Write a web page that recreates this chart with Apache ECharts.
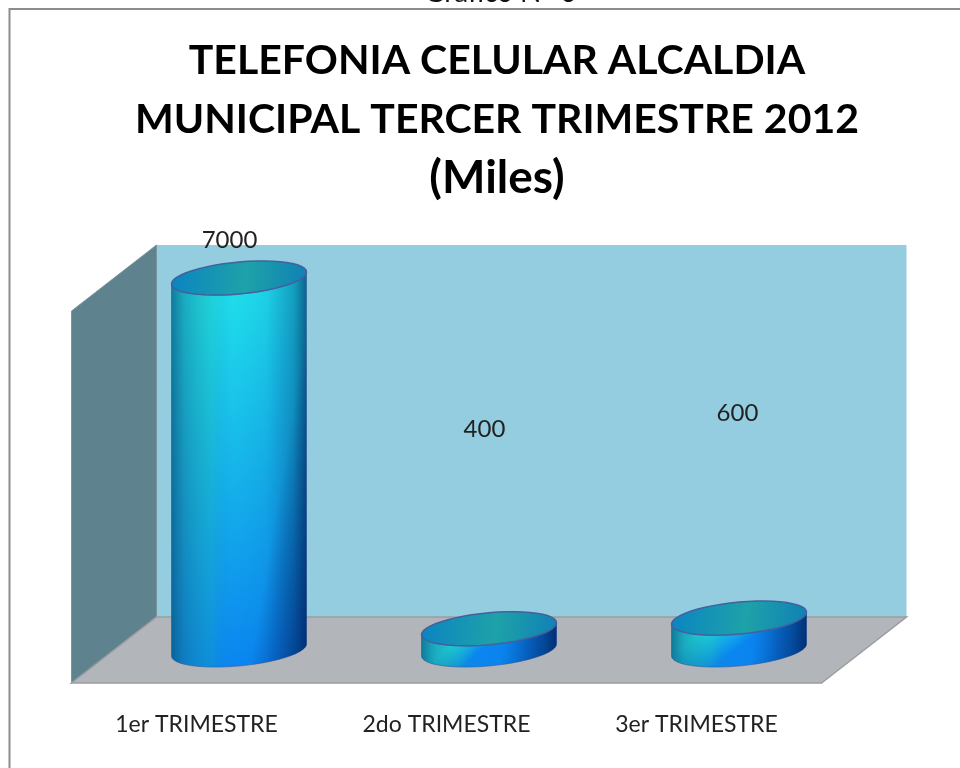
<!DOCTYPE html>
<html>
<head>
<meta charset="utf-8">
<title>Telefonia celular</title>
<script src="https://cdn.jsdelivr.net/npm/echarts@6/dist/echarts.min.js"></script>
<style>
  html, body { margin: 0; padding: 0; background: #fff; }
  #chart { width: 960px; height: 768px; }
</style>
</head>
<body>
<div id="chart"></div>
<script>
const CATEGORIES = ['1er TRIMESTRE', '2do TRIMESTRE', '3er TRIMESTRE'];
const VALUES = [7000, 400, 600];
const VALUE_MAX = 7000;
const TITLE_TEXT = 'TELEFONIA CELULAR ALCALDIA\nMUNICIPAL TERCER TRIMESTRE 2012\n{last|(Miles)}';
const CAPTION_TEXT = 'Gráfico N° 6';

// the value labels sit by hand in the original, far from the bar tops
const LABEL_OFFSETS = [[-9.5, -38], [-4.5, -199], [-1.5, -205]];

const FONT = 'Lato, "Open Sans", sans-serif';
const DEPTH_X = 42.5;
const DEPTH_Y = 33;

const chart = echarts.init(document.getElementById('chart'));

const linear = (x, y, x2, y2, stops, isGlobal) =>
    new echarts.graphic.LinearGradient(x, y, x2, y2, stops, isGlobal);

// sheared ellipse: vertical sides stay tangent at the left and right ends
const ellipsePoint = (cx, cy, a, t) => [
    cx + a * Math.cos(t),
    cy - 6 * Math.cos(t) + 16 * Math.sin(t)
];

const ellipseArc = (cx, cy, a, from, to) => {
    const pts = [];
    for (let i = 0; i <= 48; i++) {
        pts.push(ellipsePoint(cx, cy, a, from + (to - from) * i / 48));
    }
    return pts;
};

const renderWalls = (params) => {
    const g = params.coordSys;
    const fx1 = g.x - DEPTH_X, fx2 = g.x + g.width - DEPTH_X;
    const fy = g.y + g.height + DEPTH_Y;
    const bx1 = g.x + DEPTH_X, bx2 = g.x + g.width + DEPTH_X;
    const by = g.y + g.height - DEPTH_Y;
    const topBack = g.y - DEPTH_Y;
    const topFront = g.y + DEPTH_Y;
    const edge = { stroke: '#9b9da0', lineWidth: 1.5 };
    return {
        type: 'group',
        children: [
            {
                type: 'polygon',
                shape: { points: [[bx1, topBack], [bx2, topBack], [bx2, by], [bx1, by]] },
                style: { fill: '#93cddf' }
            },
            {
                type: 'polygon',
                shape: { points: [[fx1, topFront], [bx1, topBack], [bx1, by], [fx1, fy]] },
                style: { fill: '#5f828f', stroke: '#7d949d', lineWidth: 1 }
            },
            {
                type: 'polygon',
                shape: { points: [[bx1, by], [bx2, by], [fx2, fy], [fx1, fy]] },
                style: { fill: '#b2b5ba', ...edge }
            }
        ]
    };
};

const renderCylinder = (params, api) => {
    const i = api.value(0);
    const [cx, top] = api.coord([i, api.value(1)]);
    const base = api.coord([i, 0])[1];
    const a = api.size([1, 0])[0] * 0.27;
    const offset = LABEL_OFFSETS[i];

    const body = ellipseArc(cx, base, a, 0, Math.PI)
        .concat(ellipseArc(cx, top, a, Math.PI, 0));

    // the cap hides the top of the body, so the colour ramp starts below it
    const hidden = 34 / (base - top + 34);

    // shadow on the right gets wider towards the foot, hence pixel coords here
    const shadeX = cx + a * 0.2;

    return {
        type: 'group',
        children: [
            {
                type: 'polygon',
                shape: { points: body },
                style: {
                    fill: linear(0, 0, 0.3, 1, [
                        { offset: 0, color: '#1fdcea' },
                        { offset: hidden, color: '#1fdcea' },
                        { offset: hidden + (1 - hidden) * 0.45, color: '#16b6ea' },
                        { offset: 1, color: '#0a86f0' }
                    ])
                }
            },
            {
                type: 'polygon',
                shape: { points: body },
                style: {
                    fill: linear(0, 0, 1, 0, [
                        { offset: 0, color: 'rgba(10,80,120,0.72)' },
                        { offset: 0.1, color: 'rgba(20,110,140,0.45)' },
                        { offset: 0.3, color: 'rgba(30,170,150,0.22)' },
                        { offset: 0.45, color: 'rgba(20,120,200,0)' },
                        { offset: 0.7, color: 'rgba(0,60,160,0.08)' },
                        { offset: 0.9, color: 'rgba(0,60,120,0.38)' },
                        { offset: 1, color: 'rgba(0,40,90,0.68)' }
                    ]),
                    stroke: 'rgba(60,90,150,0.6)',
                    lineWidth: 1
                }
            },
            {
                type: 'polygon',
                shape: { points: body },
                style: {
                    fill: linear(shadeX, base, shadeX + 54, base + 9, [
                        { offset: 0, color: 'rgba(0,30,100,0)' },
                        { offset: 1, color: 'rgba(0,30,100,0.6)' }
                    ], true)
                }
            },
            {
                type: 'polygon',
                shape: { points: ellipseArc(cx, top, a, 0, Math.PI * 2) },
                style: {
                    fill: linear(0, 0.3, 1, 0.7, [
                        { offset: 0, color: '#0b84c2' },
                        { offset: 0.55, color: '#1ea2a8' },
                        { offset: 1, color: '#1080b6' }
                    ]),
                    stroke: '#45609c',
                    lineWidth: 1.5
                }
            },
            {
                type: 'text',
                style: {
                    x: cx + offset[0],
                    y: top + offset[1],
                    text: String(api.value(1)),
                    fill: '#222',
                    font: '24px ' + FONT,
                    align: 'center',
                    verticalAlign: 'middle'
                }
            }
        ]
    };
};

chart.setOption({
    animation: false,
    backgroundColor: '#fff',
    title: {
        text: TITLE_TEXT,
        left: 492,
        top: 26,
        textAlign: 'center',
        textStyle: {
            fontFamily: FONT,
            fontSize: 41,
            fontWeight: 'bold',
            color: '#000',
            lineHeight: 59,
            rich: {
                last: { fontFamily: FONT, fontSize: 46, fontWeight: 'bold', color: '#000', lineHeight: 59 }
            }
        }
    },
    graphic: [
        {
            type: 'polyline',
            silent: true,
            shape: { points: [[9.5, 768], [9.5, 9], [960, 9]] },
            style: { stroke: '#8c8c8c', fill: null, lineWidth: 2 }
        },
        {
            type: 'text',
            silent: true,
            x: 424,
            y: -21,
            style: { text: CAPTION_TEXT, fill: '#111', font: '28px ' + FONT }
        }
    ],
    grid: { left: 114, top: 278, width: 750, height: 372 },
    xAxis: {
        type: 'category',
        data: CATEGORIES,
        axisLine: { show: false },
        axisTick: { show: false },
        axisLabel: {
            color: '#222',
            fontFamily: FONT,
            fontSize: 23,
            margin: 63,
            // labels are centred under the front edge of the floor
            padding: [0, 85, 0, 0]
        }
    },
    yAxis: { type: 'value', min: 0, max: VALUE_MAX, show: false },
    series: [
        {
            type: 'custom',
            renderItem: renderWalls,
            clip: false,
            silent: true,
            z: 1,
            encode: { x: 0, y: 1 },
            data: [[0, 0]]
        },
        {
            type: 'custom',
            renderItem: renderCylinder,
            clip: false,
            z: 2,
            encode: { x: 0, y: 1 },
            data: VALUES.map((v, i) => [i, v])
        }
    ]
});
</script>
</body>
</html>
